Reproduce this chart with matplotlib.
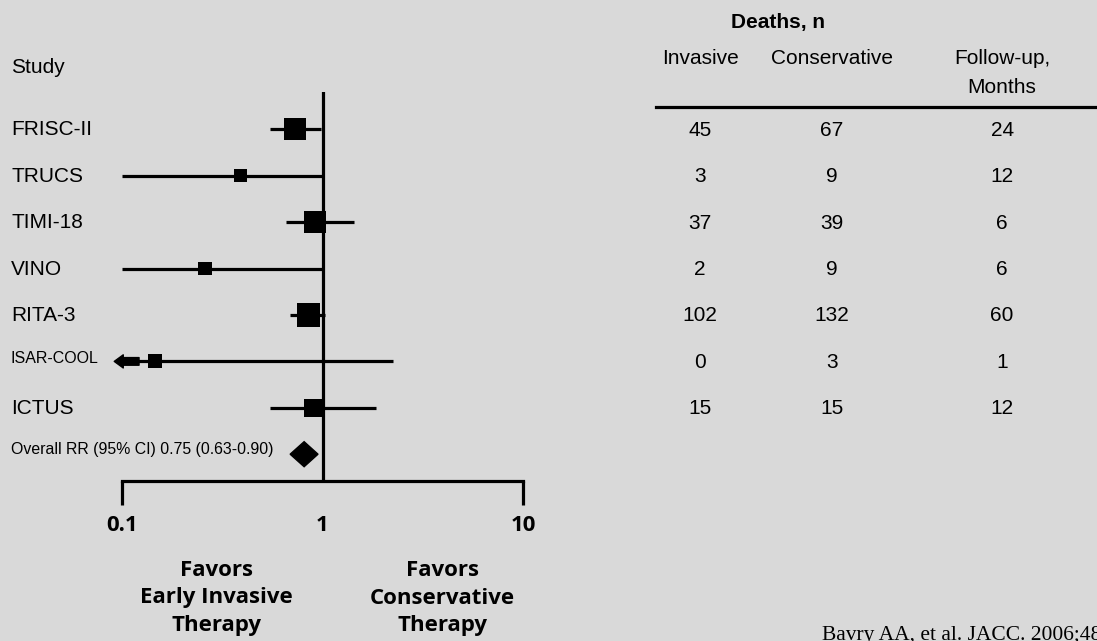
import numpy as np
import matplotlib
matplotlib.use("Agg")
import matplotlib.pyplot as plt
from matplotlib.transforms import blended_transform_factory

# ------------------
# Data
# ------------------
studies = ["FRISC-II", "TRUCS", "TIMI-18", "VINO", "RITA-3", "ISAR-COOL", "ICTUS"]
rr = [0.73, 0.39, 0.92, 0.26, 0.85, 0.147, 0.90]
ci_lo = [0.55, 0.10, 0.66, 0.10, 0.69, 0.10, 0.55]
ci_hi = [0.985, 1.02, 1.44, 1.02, 1.03, 2.25, 1.85]
deaths_inv = [45, 3, 37, 2, 102, 0, 15]
deaths_cons = [67, 9, 39, 9, 132, 3, 15]
followup = [24, 12, 6, 6, 60, 1, 12]

overall_label = "Overall RR (95% CI) 0.75 (0.63-0.90)"
overall_pt, overall_lo, overall_hi = 0.81, 0.69, 0.95

# box sizes (points), style only
box_pt = [15.8, 9.4, 15.8, 9.4, 17.0, 10.0, 13.0]

W, H = 1097, 641
BG = "#d9d9d9"
SANS = "Liberation Sans"
BOLD = "Open Sans"

fig = plt.figure(figsize=(W / 100, H / 100), dpi=100, facecolor=BG)

# forest axes (pixel box: x 121.7-523.3, y 92-481)
def px_box(x0, x1, y0, y1):
    return [x0 / W, 1 - y1 / H, (x1 - x0) / W, (y1 - y0) / H]

ax = fig.add_axes(px_box(121.7, 523.3, 92, 481))
ax.set_facecolor("none")
ax.set_xscale("log")
ax.set_xlim(0.1, 10)
row0, step = 129.4, 46.4
ax.set_ylim((481 - row0) / step, (92 - row0) / step)

rows = np.arange(len(studies))
lw = 2.3

ax.axvline(1, color="black", lw=lw, zorder=1)
ax.hlines(rows, ci_lo, ci_hi, color="black", lw=lw, zorder=2)
ax.scatter(rr, rows, marker="s", s=np.array(box_pt) ** 2, color="black",
           edgecolors="none", zorder=3)

# truncated lower limit for ISAR-COOL
isar = studies.index("ISAR-COOL")
ax.annotate("", xy=(0.0918, isar), xytext=(0.122, isar),
            arrowprops=dict(arrowstyle="simple,head_length=0.65,head_width=0.95,tail_width=0.55",
                            mutation_scale=10, color="black", shrinkA=0, shrinkB=0),
            annotation_clip=False, zorder=3)

# overall diamond
r7 = len(studies)
hh = 0.27
ax.fill([overall_lo, overall_pt, overall_hi, overall_pt],
        [r7, r7 - hh, r7, r7 + hh], color="black", zorder=3, clip_on=False)

for side in ["top", "right", "left"]:
    ax.spines[side].set_visible(False)
ax.spines["bottom"].set_linewidth(lw)
ax.set_yticks([])
ax.set_xticks([0.1, 1, 10])
ax.set_xticklabels(["0.1", "1", "10"])
ax.xaxis.set_minor_locator(matplotlib.ticker.NullLocator())
ax.tick_params(axis="x", length=17.3, width=lw, direction="out", pad=7.5)
ax.xaxis.get_major_ticks()[1].tick1line.set_visible(False)
for lab in ax.get_xticklabels():
    lab.set_fontfamily(BOLD)
    lab.set_fontweight("bold")
    lab.set_fontsize(16)

# study labels
lab_tr = blended_transform_factory(fig.transFigure, ax.transData)
for i, name in enumerate(studies):
    if name == "ISAR-COOL":
        ax.text(11 / W, i + 0.04, name, transform=lab_tr, fontsize=11.5,
                family=SANS, va="baseline", ha="left")
    else:
        ax.text(11 / W, i + 0.13, name, transform=lab_tr, fontsize=15,
                family=SANS, va="baseline", ha="left")
ax.text(11 / W, r7 + 0.0, overall_label, transform=lab_tr, fontsize=11.4,
        family=SANS, va="baseline", ha="left")
ax.text(11 / W, -1.22, "Study", transform=lab_tr, fontsize=15,
        family=SANS, va="baseline", ha="left")

# table on the right
tb = fig.add_axes(px_box(656, 1097, 92, 481), sharey=ax)
tb.set_facecolor("none")
tb.set_xlim(0, 1)
tb.axis("off")
cols = [0.100, 0.399, 0.785]
for i in rows:
    for cx, vals in zip(cols, [deaths_inv, deaths_cons, followup]):
        tb.text(cx, i + 0.14, str(vals[i]), ha="center", va="baseline",
                fontsize=15, family=SANS)
tb.text(0.277, -2.19, "Deaths, n", ha="center", va="baseline", fontsize=15,
        family=SANS, fontweight="bold")
tb.text(cols[0], -1.41, "Invasive", ha="center", va="baseline", fontsize=15, family=SANS)
tb.text(cols[1], -1.41, "Conservative", ha="center", va="baseline", fontsize=15, family=SANS)
tb.text(cols[2], -1.41, "Follow-up,", ha="center", va="baseline", fontsize=15, family=SANS)
tb.text(cols[2], -0.78, "Months", ha="center", va="baseline", fontsize=15, family=SANS)
tb.plot([0, 1.01], [-0.48, -0.48], color="black", lw=lw, clip_on=False)

# favors labels
fig.text(216.7 / W, 1 - 598 / H, "Favors\nEarly Invasive\nTherapy", ha="center",
         va="center", fontsize=16, family=BOLD, fontweight="bold", linespacing=1.38)
fig.text(442.5 / W, 1 - 598 / H, "Favors\nConservative\nTherapy", ha="center",
         va="center", fontsize=16, family=BOLD, fontweight="bold", linespacing=1.38)

# citation (runs off the bottom/right edge as in the reference)
fig.text(822 / W, 1 - 640 / H, "Bavry AA, et al. JACC. 2006;48:1319-25.",
         ha="left", va="baseline", fontsize=15.5, family="Liberation Serif")

fig.savefig("out.png", dpi=100, facecolor=BG)
